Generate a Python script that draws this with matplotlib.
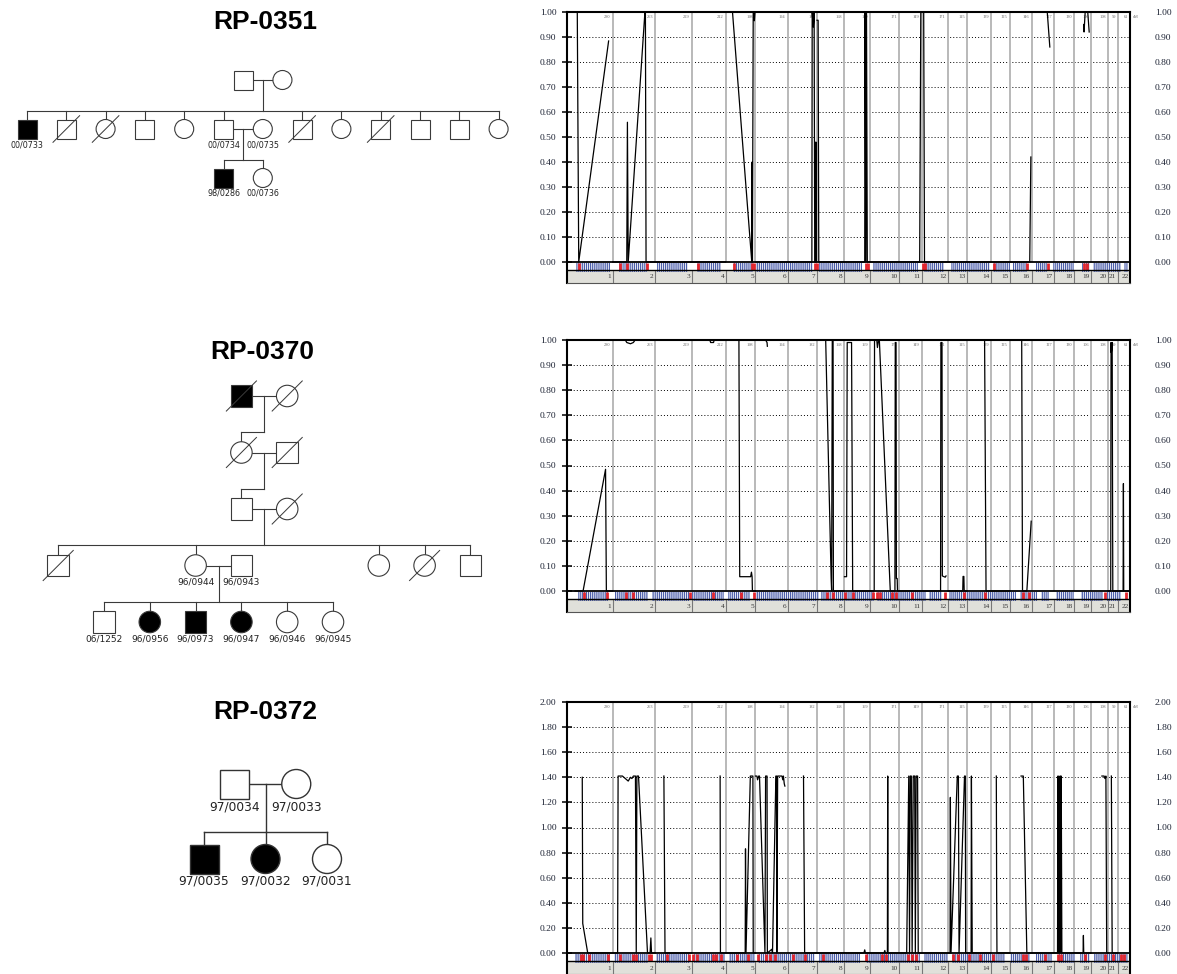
import numpy as np
import matplotlib.pyplot as plt
from matplotlib.patches import Rectangle, Circle
from matplotlib.lines import Line2D

plt.rcParams['hatch.linewidth'] = 0.9
SERIF = ['Liberation Serif', 'DejaVu Serif']

W, H = 1177, 974
nan = np.nan

# ---------------- genome axis (cM) ----------------
chrom_len = [284, 265, 227, 211, 186, 200, 182, 170, 159, 182, 141,
             163, 120, 147, 118, 136, 143, 120, 107, 107, 59, 77]
chrom_names = [str(i) for i in range(1, 23)]
chrom_cm_labels = ["280", "263", "229", "212", "198", "194", "182", "168", "169", "171", "149",
                   "171", "115", "139", "125", "146", "127", "130", "106", "108", "59", "61"]

# ---------------- chart 1 (RP-0351) ----------------
chart1_pos = [64, 73, 259, nan,
              284, 372, 376, 381, 485, 488, 492, 987, nan,
              987, 1030, 1150, 1152, 1154, 1159, 1163, 1166, 1170, nan,
              1173, 1524, 1526, 1533, 1538, 1542, 1547, 1549, 1551, nan,
              1556, 1563, 1567, 1853, 1855, 1860, 1864, 1869, 2195, 2202, nan,
              2207, 2220, 2225, 2880, 2887, nan,
              2891, 2989, 3005, nan,
              3216, 3218, 3225, 3241, 3250]
chart1_val = [1.0, 0.0, 0.884, nan,
              0, 0, 0.559, 0, 1.0, 1.0, 0, 0, nan,
              1.0, 1.0, 0, 0.40, 0, 1.0, 1.0, 0.965, 1.0, nan,
              0, 0, 1.0, 0.94, 1.0, 0, 0, 0.48, 0, nan,
              0.967, 0.967, 0, 0, 1.0, 0, 1.0, 0, 0, 1.0, nan,
              1.0, 1.0, 0, 0, 0.42, nan,
              1.0, 1.0, 0.86, nan,
              0.95, 0.92, 1.0, 1.0, 0.92]
chart1_red = [75, 330, 373, 498, 815, 1039, 1151, 1164, 1544, 1556, 1861, 1873,
              2216, 2228, 2658, 2863, 2994, 3218, 3236]
chart1_blue = [(56, 268), (324, 498), (560, 753), (809, 958), (1033, 1158), (1176, 1531),
               (1568, 1836), (1905, 2185), (2222, 2346), (2390, 2633), (2651, 2757),
               (2776, 2863), (2919, 2988), (3025, 3156), (3205, 3255), (3274, 3448), (3467, 3492)]

# ---------------- chart 2 (RP-0370) ----------------
chart2_pos = [50, 100, 240, 245, 284, nan,
              284, 363, 372, 395, 413, 424, 549, nan,
              776, 889, 894, 912, 916, 987, nan,
              987, 1070, 1075, 1143, 1148, 1152, 1154, 1173, nan,
              1173, 1236, 1245, 1247, nan,
              1556, 1610, 1644, 1647, 1651, 1656, 1658, 1724, nan,
              1727, 1740, 1744, 1771, 1778, 1912, 1914, 1928, 1932, 1939, 1944, 2012,
              2041, 2043, 2048, 2050, 2055, 2057, 2325, 2327, 2334, 2336, 2354, 2359, nan,
              2372, 2463, 2465, 2470, 2472, 2490, nan,
              2490, 2599, 2608, 2755, nan,
              2755, 2830, 2835, 2862, 2889, nan,
              3368, 3384, 3386, 3388, 3393, 3397, 3461, 3463, 3465, 3504]
chart2_val = [0, 0, 0.485, 0, 0, nan,
              1.0, 1.0, 0.99, 0.985, 0.99, 1.0, 1.0, nan,
              1.0, 1.0, 0.99, 0.99, 1.0, 1.0, nan,
              1.0, 1.0, 0.057, 0.057, 0.075, 0.057, 0, 0, nan,
              1.0, 1.0, 0.99, 0.975, nan,
              1.0, 1.0, 0.05, 0, 1.0, 1.0, 0, 0, nan,
              0.057, 0.057, 0.99, 0.99, 0, 0, 1.0, 1.0, 0.97, 1.0, 1.0, 0,
              0, 0.99, 0.99, 0.05, 0.05, 0, 0, 0.99, 0.99, 0.06, 0.055, 0.06, nan,
              0, 0, 0.058, 0.058, 0, 0, nan,
              1.0, 1.0, 0, 0, nan,
              1.0, 1.0, 0, 0, 0.278, nan,
              0, 0, 0.99, 0.95, 0.99, 0, 0, 0.428, 0, 0]
chart2_red = [106, 249, 367, 411, 766, 909, 1083, 1164, 1618, 1656, 1730, 1780, 1905, 1929,
              1948, 2023, 2048, 2147, 2353, 2471, 2602, 2838, 2876, 3349, 3479]
chart2_blue = [(68, 255), (299, 504), (529, 759), (778, 977), (1002, 1139), (1176, 1568),
               (1581, 1911), (1929, 2234), (2253, 2334), (2378, 2795), (2819, 2925),
               (2950, 3000), (3044, 3156), (3199, 3336), (3361, 3448)]

# ---------------- chart 3 (RP-0372) ----------------
chart3_pos = [95, 98, 129, 284, 315, 318, 345, 381, 395, 404, 413, 426, 431, 435, 445, 501, 517, 522, 526, 549, nan,
              603, 610, 776, nan,
              953, 955, 1109, 1111, 1114, 1141, 1157, 1159, 1173, nan,
              1173, 1182, 1186, 1193, 1198, 1232, 1236, 1245, 1247, 1275, 1279, 1300, 1304, 1306, 1311,
              1338, 1343, 1347, 1352, 1356, nan,
              1472, 1479, 1848, 1853, 1857, 1973, 1978, 1982, 1994, 1996, 1998, 2114, 2127, 2132, 2136,
              2143, 2148, 2155, 2164, 2168, 2173, 2182, 2186, 2384, 2386, 2390, 2429, 2436, 2440, 2474,
              2479, 2481, 2515, 2517, 2522, 2637, nan,
              2672, 2674, 2676, 2755, nan,
              2826, 2840, 2862, 3053, 3055, 3059, 3062, 3066, 3071, 3073, 3076, 3080, 3212, 3214, 3216, 3261, nan,
              3329, 3343, 3348, 3354, 3359, 3368, nan,
              3388, 3393, 3427]
chart3_val = [1.40, 0.235, 0, 0, 0, 1.41, 1.41, 1.37, 1.40, 1.39, 1.41, 1.41, 0, 1.41, 1.41, 0, 0, 0.12, 0, 0, nan,
              1.41, 0, 0, nan,
              1.41, 0, 0, 0.83, 0, 1.41, 1.41, 0, 0, nan,
              1.41, 1.41, 1.38, 1.41, 1.41, 0, 1.41, 1.41, 0, 0.03, 0, 1.41, 1.41, 0, 1.41,
              1.41, 1.38, 1.41, 1.35, 1.33, nan,
              1.41, 0, 0, 0.025, 0, 0, 0.02, 0, 0, 1.41, 0, 0, 1.41, 0, 1.41,
              1.41, 0, 1.41, 1.41, 0, 1.41, 1.41, 0, 0, 1.24, 0, 1.41, 1.41, 0, 1.41,
              1.41, 0, 0, 1.41, 0, 0, nan,
              1.41, 0.47, 0, 0, nan,
              1.41, 1.41, 0, 0, 1.41, 0, 1.41, 0, 1.41, 0, 1.41, 0, 0, 0.14, 0, 0, nan,
              1.41, 1.41, 1.39, 1.41, 0, 0, nan,
              1.41, 0, 0]
chart3_red = [87, 100, 137, 255, 330, 411, 429, 510, 523, 622, 759, 784, 809, 909, 927, 958, 1058,
              1127, 1189, 1239, 1263, 1295, 1407, 1481, 1593, 1861, 1961, 1986, 2122, 2147, 2172,
              2403, 2434, 2502, 2570, 2651, 2838, 2857, 2975, 3056, 3075, 3224, 3349, 3398, 3448, 3467]
chart3_blue = [(50, 268), (293, 504), (554, 766), (790, 983), (1008, 1170), (1189, 1544),
               (1568, 1824), (1861, 2197), (2222, 2371), (2396, 2726), (2757, 2882),
               (2919, 3019), (3056, 3162), (3193, 3255), (3280, 3492)]

# ---------------- pedigrees ----------------
ped_titles = ["RP-0351", "RP-0370", "RP-0372"]
# individuals: (generation, column, sex, affected, deceased, label)
ped1_people = [(0, 5.5, 'M', 0, 0, ''), (0, 6.5, 'F', 0, 0, ''),
               (1, 0, 'M', 1, 0, '00/0733'), (1, 1, 'M', 0, 1, ''), (1, 2, 'F', 0, 1, ''),
               (1, 3, 'M', 0, 0, ''), (1, 4, 'F', 0, 0, ''), (1, 5, 'M', 0, 0, '00/0734'),
               (1, 6, 'F', 0, 0, '00/0735'), (1, 7, 'M', 0, 1, ''), (1, 8, 'F', 0, 0, ''),
               (1, 9, 'M', 0, 1, ''), (1, 10, 'M', 0, 0, ''), (1, 11, 'M', 0, 0, ''),
               (1, 12, 'F', 0, 0, ''),
               (2, 5, 'M', 1, 0, '98/0286'), (2, 6, 'F', 0, 0, '00/0736')]
# families: (generation of parents, left col, right col, child cols)
ped1_families = [(0, 5.5, 6.5, [0, 1, 2, 3, 4, 5, 7, 8, 9, 10, 11, 12]),
                 (1, 5, 6, [5, 6])]

ped2_people = [(0, 3, 'M', 1, 1, ''), (0, 4, 'F', 0, 1, ''),
               (1, 3, 'F', 0, 1, ''), (1, 4, 'M', 0, 1, ''),
               (2, 3, 'M', 0, 0, ''), (2, 4, 'F', 0, 1, ''),
               (3, -1, 'M', 0, 1, ''), (3, 2, 'F', 0, 0, '96/0944'), (3, 3, 'M', 0, 0, '96/0943'),
               (3, 6, 'F', 0, 0, ''), (3, 7, 'F', 0, 1, ''), (3, 8, 'M', 0, 0, ''),
               (4, 0, 'M', 0, 0, '06/1252'), (4, 1, 'F', 1, 0, '96/0956'), (4, 2, 'M', 1, 0, '96/0973'),
               (4, 3, 'F', 1, 0, '96/0947'), (4, 4, 'F', 0, 0, '96/0946'), (4, 5, 'F', 0, 0, '96/0945')]
ped2_families = [(0, 3, 4, [3]), (1, 3, 4, [3]), (2, 3, 4, [-1, 2, 6, 7, 8]),
                 (3, 2, 3, [0, 1, 2, 3, 4, 5])]

ped3_people = [(0, 0.5, 'M', 0, 0, '97/0034'), (0, 1.5, 'F', 0, 0, '97/0033'),
               (1, 0, 'M', 1, 0, '97/0035'), (1, 1, 'F', 1, 0, '97/0032'), (1, 2, 'F', 0, 0, '97/0031')]
ped3_families = [(0, 0.5, 1.5, [0, 1, 2])]

fig = plt.figure(figsize=(W / 100, H / 100), dpi=100)
bg = fig.add_axes([0, 0, 1, 1])
bg.set_xlim(0, W)
bg.set_ylim(H, 0)
bg.axis('off')


def draw_pedigree(people, families, title, x0, dx, y0, dy, s, fs, title_xy, lw, col):
    px = lambda c: x0 + c * dx
    py = lambda g: y0 + g * dy
    bg.text(title_xy[0], title_xy[1], title, ha='center', va='center', fontsize=19,
            fontweight='bold', family=['Liberation Sans', 'DejaVu Sans'], color='black')
    for g, c1, c2, kids in families:
        y = py(g)
        bg.add_line(Line2D([px(c1) + s / 2, px(c2) - s / 2], [y, y], lw=lw, color=col))
        mid = (c1 + c2) / 2
        ys = y + 0.64 * dy
        bg.add_line(Line2D([px(mid), px(mid)], [y, ys], lw=lw, color=col))
        lo, hi = min(kids + [mid]), max(kids + [mid])
        bg.add_line(Line2D([px(lo), px(hi)], [ys, ys], lw=lw, color=col))
        for k in kids:
            bg.add_line(Line2D([px(k), px(k)], [ys, py(g + 1) - s / 2], lw=lw, color=col))
    for g, c, sex, aff, dec, lab in people:
        x, y = px(c), py(g)
        fc = 'black' if aff else 'white'
        if sex == 'M':
            bg.add_patch(Rectangle((x - s / 2, y - s / 2), s, s, fc=fc, ec=col, lw=lw, zorder=3))
        else:
            bg.add_patch(Circle((x, y), s / 2, fc=fc, ec=col, lw=lw, zorder=3))
        if dec:
            bg.add_line(Line2D([x - 0.7 * s, x + 0.7 * s], [y + 0.7 * s, y - 0.7 * s],
                               lw=lw * 0.9, color=col, zorder=4))
        if lab:
            bg.text(x, y + s / 2 + 1.5, lab, ha='center', va='top', fontsize=fs,
                    color='#222222', family=['DejaVu Sans'])


draw_pedigree(ped1_people, ped1_families, ped_titles[0], 27, 39.3, 80, 49, 19, 5.8, (265, 22), 0.8, '#3a3a3a')
draw_pedigree(ped2_people, ped2_families, ped_titles[1], 104, 45.8, 396, 56.5, 21.5, 6.5, (262, 352), 0.8, '#3a3a3a')
draw_pedigree(ped3_people, ped3_families, ped_titles[2], 204, 61.5, 784, 75, 29, 8.8, (265, 712), 1.0, '#333333')

# ---------------- charts ----------------
bounds = np.concatenate([[0], np.cumsum(chrom_len)])
total = bounds[-1]


def draw_chart(top, zero, ymax, step, pos, val, red, blue):
    k = ymax / (zero - top)          # value units per pixel
    bottom = zero + 21
    ax = fig.add_axes([567 / W, 1 - bottom / H, 563 / W, (bottom - top) / H])
    ax.set_xlim(0, total)
    ax.set_ylim(-21 * k, ymax)
    ax.set_xticks([])
    ticks = np.arange(0, ymax + step / 2, step)
    ax.set_yticks(ticks)
    ax.set_yticklabels([f"{t:.2f}" for t in ticks], family=SERIF, fontsize=6.8, color='#1c2233')
    ax.tick_params(axis='y', left=True, right=True, direction='inout', length=7, width=1.1, pad=4)
    for sp in ['top', 'left', 'right']:
        ax.spines[sp].set_linewidth(1.5)
    ax.spines['bottom'].set_linewidth(0.8)
    ax.spines['bottom'].set_color('#555555')

    # grid
    for t in ticks[1:-1]:
        ax.axhline(t, color='black', lw=0.7, ls=(0, (1, 2.2)), zorder=1)
    ax.vlines(bounds[1:-1], 0, ymax, color='#b9b9b9', lw=1.4, zorder=1)

    # chromosome length labels
    for b, lab in zip(bounds[1:], chrom_cm_labels):
        ax.text(b - 2 * 6.22, ymax - 2.5 * k, lab, ha='right', va='top', fontsize=3.2,
                color='#666666', family=SERIF)
    ax.text(total + 3 * 6.22, ymax - 2.5 * k, 'cM', ha='left', va='top', fontsize=3.2,
            color='#666666', family=SERIF, clip_on=False)

    # marker strip
    for s, e in blue:
        ax.add_patch(Rectangle((s, -10 * k), e - s, 9 * k, fc='none', ec='#4d5fab',
                               lw=0, hatch='||||||||', zorder=2))
    ax.vlines(red, -8 * k, -1 * k, color='#e3262e', lw=2.0, zorder=3)
    ax.axhline(0, color='black', lw=1.3, zorder=4)
    ax.axhline(-8 * k, color='black', lw=1.0, zorder=4)
    ax.add_patch(Rectangle((0, -21 * k), total, 13 * k, fc='#e0e0da', ec='none', zorder=1))
    ax.vlines(bounds[1:-1], -21 * k, -8 * k, color='#777777', lw=0.8, zorder=3)
    for b, name in zip(bounds[1:], chrom_names):
        ax.text(b - 1.5 * 6.22, -15 * k, name, ha='right', va='center', fontsize=5.2,
                color='#333333', family=SERIF, zorder=5)

    # data line
    ax.plot(pos, val, color='black', lw=0.9, zorder=6)

    # right side labels
    ax2 = ax.twinx()
    ax2.set_ylim(ax.get_ylim())
    ax2.set_yticks(ticks)
    ax2.set_yticklabels([f"{t:.2f}" for t in ticks], family=SERIF, fontsize=6.8, color='#1c2233')
    ax2.tick_params(axis='y', length=0, pad=18)
    for sp in ax2.spines.values():
        sp.set_visible(False)
    return ax


draw_chart(12, 262, 1.0, 0.1, chart1_pos, chart1_val, chart1_red, chart1_blue)
draw_chart(340, 591, 1.0, 0.1, chart2_pos, chart2_val, chart2_red, chart2_blue)
draw_chart(702, 953, 2.0, 0.2, chart3_pos, chart3_val, chart3_red, chart3_blue)

fig.savefig('out.png', dpi=100)
